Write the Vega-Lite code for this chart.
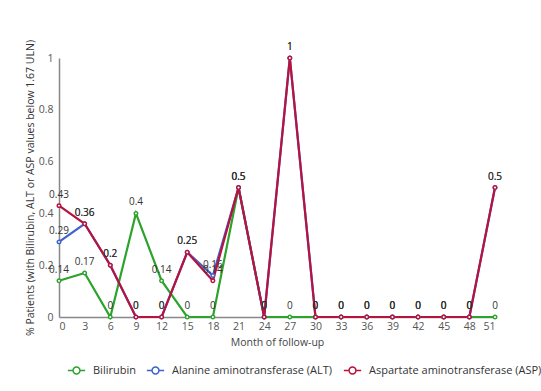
{
  "$schema": "https://vega.github.io/schema/vega-lite/v6.json",
  "autosize": "none",
  "width": 436,
  "height": 259,
  "padding": {"left": 59, "top": 58, "right": 46, "bottom": 74},
  "background": "white",
  "config": {
    "font": "Open Sans",
    "view": {"stroke": null}
  },
  "data": {
    "values": [
      {"month": 0, "series": "Bilirubin", "value": 0.14},
      {"month": 3, "series": "Bilirubin", "value": 0.17},
      {"month": 6, "series": "Bilirubin", "value": 0},
      {"month": 9, "series": "Bilirubin", "value": 0.4},
      {"month": 12, "series": "Bilirubin", "value": 0.14},
      {"month": 15, "series": "Bilirubin", "value": 0},
      {"month": 18, "series": "Bilirubin", "value": 0},
      {"month": 21, "series": "Bilirubin", "value": 0.5},
      {"month": 24, "series": "Bilirubin", "value": 0},
      {"month": 27, "series": "Bilirubin", "value": 0},
      {"month": 30, "series": "Bilirubin", "value": 0},
      {"month": 33, "series": "Bilirubin", "value": 0},
      {"month": 36, "series": "Bilirubin", "value": 0},
      {"month": 39, "series": "Bilirubin", "value": 0},
      {"month": 42, "series": "Bilirubin", "value": 0},
      {"month": 45, "series": "Bilirubin", "value": 0},
      {"month": 48, "series": "Bilirubin", "value": 0},
      {"month": 51, "series": "Bilirubin", "value": 0},
      {"month": 0, "series": "Alanine aminotransferase (ALT)", "value": 0.29},
      {"month": 3, "series": "Alanine aminotransferase (ALT)", "value": 0.36},
      {"month": 6, "series": "Alanine aminotransferase (ALT)", "value": 0.2},
      {"month": 9, "series": "Alanine aminotransferase (ALT)", "value": 0},
      {"month": 12, "series": "Alanine aminotransferase (ALT)", "value": 0},
      {"month": 15, "series": "Alanine aminotransferase (ALT)", "value": 0.25},
      {"month": 18, "series": "Alanine aminotransferase (ALT)", "value": 0.16},
      {"month": 21, "series": "Alanine aminotransferase (ALT)", "value": 0.5},
      {"month": 24, "series": "Alanine aminotransferase (ALT)", "value": 0},
      {"month": 27, "series": "Alanine aminotransferase (ALT)", "value": 1},
      {"month": 30, "series": "Alanine aminotransferase (ALT)", "value": 0},
      {"month": 33, "series": "Alanine aminotransferase (ALT)", "value": 0},
      {"month": 36, "series": "Alanine aminotransferase (ALT)", "value": 0},
      {"month": 39, "series": "Alanine aminotransferase (ALT)", "value": 0},
      {"month": 42, "series": "Alanine aminotransferase (ALT)", "value": 0},
      {"month": 45, "series": "Alanine aminotransferase (ALT)", "value": 0},
      {"month": 48, "series": "Alanine aminotransferase (ALT)", "value": 0},
      {"month": 51, "series": "Alanine aminotransferase (ALT)", "value": 0.5},
      {"month": 0, "series": "Aspartate aminotransferase (ASP)", "value": 0.43},
      {"month": 3, "series": "Aspartate aminotransferase (ASP)", "value": 0.36},
      {"month": 6, "series": "Aspartate aminotransferase (ASP)", "value": 0.2},
      {"month": 9, "series": "Aspartate aminotransferase (ASP)", "value": 0},
      {"month": 12, "series": "Aspartate aminotransferase (ASP)", "value": 0},
      {"month": 15, "series": "Aspartate aminotransferase (ASP)", "value": 0.25},
      {"month": 18, "series": "Aspartate aminotransferase (ASP)", "value": 0.14},
      {"month": 21, "series": "Aspartate aminotransferase (ASP)", "value": 0.5},
      {"month": 24, "series": "Aspartate aminotransferase (ASP)", "value": 0},
      {"month": 27, "series": "Aspartate aminotransferase (ASP)", "value": 1},
      {"month": 30, "series": "Aspartate aminotransferase (ASP)", "value": 0},
      {"month": 33, "series": "Aspartate aminotransferase (ASP)", "value": 0},
      {"month": 36, "series": "Aspartate aminotransferase (ASP)", "value": 0},
      {"month": 39, "series": "Aspartate aminotransferase (ASP)", "value": 0},
      {"month": 42, "series": "Aspartate aminotransferase (ASP)", "value": 0},
      {"month": 45, "series": "Aspartate aminotransferase (ASP)", "value": 0},
      {"month": 48, "series": "Aspartate aminotransferase (ASP)", "value": 0},
      {"month": 51, "series": "Aspartate aminotransferase (ASP)", "value": 0.5}
    ]
  },
  "encoding": {
    "x": {
      "field": "month", "type": "quantitative",
      "scale": {"domain": [0, 51], "nice": false, "zero": true},
      "axis": {
        "title": "Month of follow-up",
        "values": [0,3,6,9,12,15,18,21,24,27,30,33,36,39,42,45,48,51],
        "grid": false, "ticks": false,
        "domainColor": "#888", "domainWidth": 1.5,
        "labelColor": "#555", "labelFontSize": 10.5, "labelPadding": 4,
        "titleColor": "#444", "titleFontSize": 10.5, "titleFontWeight": "normal", "titlePadding": 6
      }
    },
    "y": {
      "field": "value", "type": "quantitative",
      "scale": {"domain": [0, 1], "nice": false},
      "axis": {
        "title": "% Patients (with Bilirubin, ALT or ASP values below 1.67 ULN)",
        "values": [0, 0.2, 0.4, 0.6, 0.8, 1],
        "format": "~g",
        "grid": false, "ticks": false,
        "domainColor": "#888", "domainWidth": 1.5,
        "labelColor": "#555", "labelFontSize": 10.5, "labelPadding": 6,
        "titleColor": "#333", "titleFontSize": 10.5, "titleFontWeight": "normal", "titlePadding": 3
      }
    },
    "color": {
      "field": "series", "type": "nominal",
      "sort": ["Bilirubin", "Alanine aminotransferase (ALT)", "Aspartate aminotransferase (ASP)"],
      "scale": {
        "domain": ["Bilirubin", "Alanine aminotransferase (ALT)", "Aspartate aminotransferase (ASP)"],
        "range": ["#2ca32c", "#3f62cc", "#b8123f"]
      },
      "legend": {
        "title": null,
        "orient": "none",
        "legendX": 8,
        "legendY": 303,
        "direction": "horizontal",
        "symbolType": "M0.4,0 A0.4,0.4 0 1,1 -0.4,0 A0.4,0.4 0 1,1 0.4,0 M-1,0 L-0.4,0 M0.4,0 L1,0",
        "symbolSize": 300,
        "symbolStrokeWidth": 1.5,
        "symbolFillColor": "white",
        "labelFontSize": 11,
        "labelColor": "#333",
        "labelLimit": 0,
        "columnPadding": 7,
        "labelOffset": 7
      }
    }
  },
  "layer": [
    {
      "mark": {"type": "line", "strokeWidth": 2.2},
      "encoding": {"order": {"field": "month"}}
    },
    {
      "mark": {"type": "point", "filled": false, "fill": "white", "fillOpacity": 1, "strokeWidth": 1.5, "size": 12, "opacity": 1}
    },
    {
      "mark": {"type": "text", "dy": -11, "fontSize": 10, "fill": "#333"},
      "encoding": {
        "text": {"field": "value", "type": "quantitative"},
        "color": {"value": "#333"}
      }
    }
  ]
}
